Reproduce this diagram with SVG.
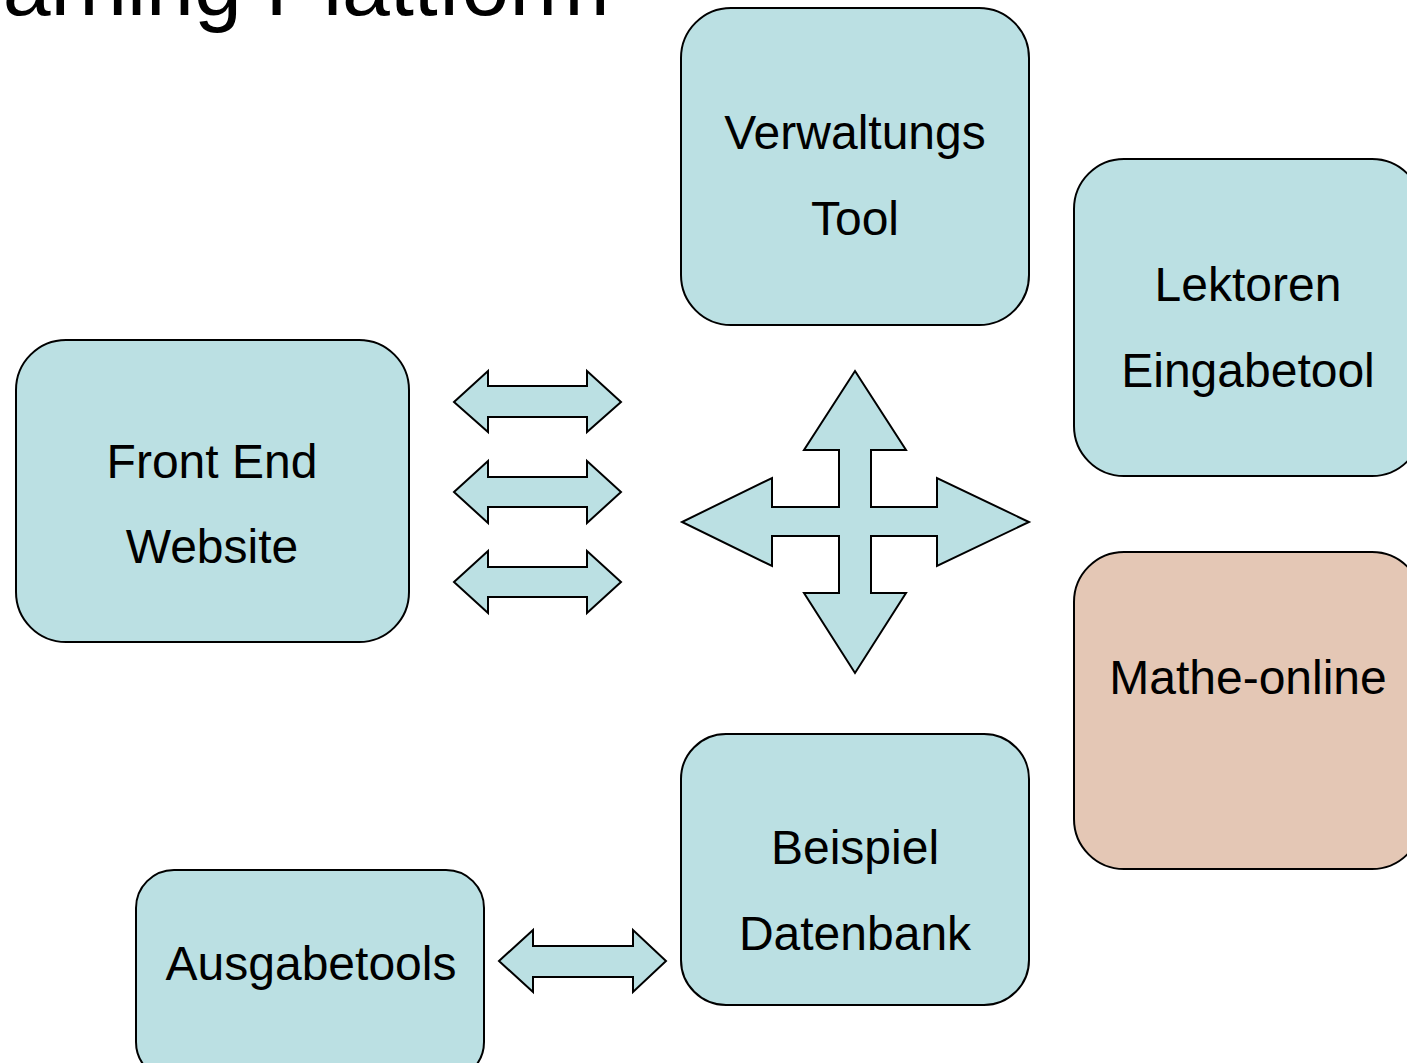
<svg xmlns="http://www.w3.org/2000/svg" width="1407" height="1063" viewBox="0 0 1407 1063">
<style>
.box{fill:#BBE0E3;stroke:#000;stroke-width:2}
.alt{fill:#E4C7B5}
.arr{fill:#BBE0E3;stroke:#000;stroke-width:2;stroke-linejoin:miter}
text{font-family:"Liberation Sans",Arial,sans-serif;fill:#000}
.lbl{font-size:48px;text-anchor:middle}
.title{font-size:86px}
</style>
<rect width="1407" height="1063" fill="#fff"/>
<text class="title" x="-93" y="15">Learning Plattform</text>
<g id="verwaltung">
<rect class="box" x="681" y="8" width="348" height="317" rx="50" ry="50"/>
<text class="lbl" x="855" y="149">Verwaltungs</text>
<text class="lbl" x="855" y="235">Tool</text>
</g>
<g id="lektoren">
<rect class="box" x="1074" y="159" width="348" height="317" rx="50" ry="50"/>
<text class="lbl" x="1248" y="301">Lektoren</text>
<text class="lbl" x="1248" y="387">Eingabetool</text>
</g>
<g id="frontend">
<rect class="box" x="16" y="340" width="393" height="302" rx="50" ry="50"/>
<text class="lbl" x="212" y="478">Front End</text>
<text class="lbl" x="212" y="563">Website</text>
</g>
<g id="matheonline">
<rect class="box alt" x="1074" y="552" width="348" height="317" rx="50" ry="50"/>
<text class="lbl" x="1248" y="694">Mathe-online</text>
</g>
<g id="beispiel">
<rect class="box" x="681" y="734" width="348" height="271" rx="45" ry="45"/>
<text class="lbl" x="855" y="864">Beispiel</text>
<text class="lbl" x="855" y="950">Datenbank</text>
</g>
<g id="ausgabetools">
<rect class="box" x="136" y="870" width="348" height="210" rx="38" ry="38"/>
<text class="lbl" x="311" y="980">Ausgabetools</text>
</g>
<g id="connectors">
<polygon class="arr" points="454,402 488,371 488,386 587,386 587,371 621,402 587,432 587,417 488,417 488,432"/>
<polygon class="arr" points="454,492 488,461 488,477 587,477 587,461 621,492 587,523 587,507 488,507 488,523"/>
<polygon class="arr" points="454,582 488,551 488,567 587,567 587,551 621,582 587,613 587,597 488,597 488,613"/>
<polygon class="arr" points="499,961 533,930 533,946 633,946 633,930 666,961 633,992 633,977 533,977 533,992"/>
<polygon class="arr" points="855,371 906,450 871,450 871,507 937,507 937,478 1029,522 937,566 937,536 871,536 871,593 906,593 855,673 804,593 839,593 839,536 772,536 772,566 682,522 772,478 772,507 839,507 839,450 804,450"/>
</g>
</svg>
